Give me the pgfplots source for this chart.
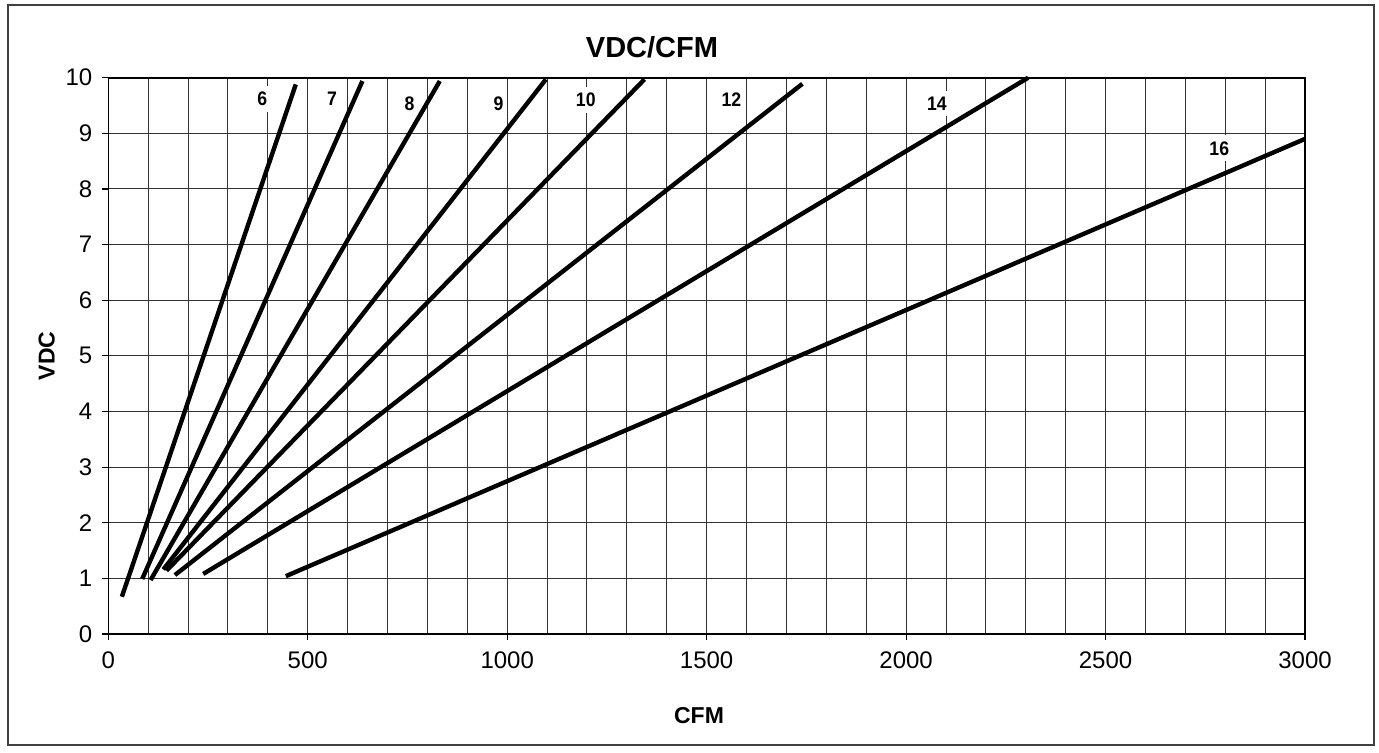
\documentclass[border=0pt]{standalone}
\usepackage{fontspec}
\setmainfont{Liberation Sans}
\newfontfamily\narrowfont{Liberation Sans}[FakeStretch=0.9]
\usepackage{pgfplots}
\pgfplotsset{compat=1.18}
\begin{document}
\begin{tikzpicture}
\useasboundingbox (0pt,0pt) rectangle (689.5pt,376pt);
\draw[line width=0.75pt, color=black!75] (4pt,3.5pt) rectangle (687pt,373.5pt);
\begin{axis}[
  at={(54.15pt,59pt)}, anchor=south west,
  scale only axis, width=598.35pt, height=278.15pt,
  xmin=0, xmax=3000, ymin=0, ymax=10,
  xtick={0,500,...,3000}, minor x tick num=4,
  ytick={0,1,...,10},
  grid=both,
  major grid style={black!80, line width=0.5pt},
  minor grid style={black!80, line width=0.5pt},
  tick pos=left, tick align=outside,
  major tick length=3pt, minor tick length=0pt,
  tick style={black, line width=0.6pt},
  axis line style={black, line width=0.8pt},
  tick label style={font=\fontsize{12}{14}\selectfont},
  yticklabel style={xshift=-1.5pt},
  xticklabel style={yshift=-2.5pt, /pgf/number format/1000 sep={}},
  /pgf/number format/assume math mode=true,
  scaled x ticks=false,
  clip=false,
]
\addplot[black, line width=2.2pt] coordinates {(34,0.67) (470,9.88)};
\addplot[black, line width=2.2pt] coordinates {(85,0.99) (637,9.94)};
\addplot[black, line width=2.2pt] coordinates {(106,0.97) (831,9.94)};
\addplot[black, line width=2.2pt] coordinates {(138,1.16) (1097,9.97)};
\addplot[black, line width=2.2pt] coordinates {(146,1.14) (1344,9.97)};
\addplot[black, line width=2.2pt] coordinates {(167,1.06) (1740,9.89)};
\addplot[black, line width=2.2pt] coordinates {(238,1.08) (2306,10)};
\addplot[black, line width=2.2pt] coordinates {(445,1.04) (3000,8.90)};
\tikzset{lbl/.style={fill=white, inner xsep=1pt, inner ysep=3pt, font=\narrowfont\bfseries\fontsize{9.8}{11}\selectfont}}
\node[lbl] at (axis cs:386,9.62) {6};
\node[lbl] at (axis cs:561,9.62) {7};
\node[lbl] at (axis cs:755,9.54) {8};
\node[lbl] at (axis cs:978,9.54) {9};
\node[lbl] at (axis cs:1197,9.60) {10};
\node[lbl] at (axis cs:1562,9.60) {12};
\node[lbl] at (axis cs:2077,9.54) {14};
\node[lbl] at (axis cs:2785,8.73) {16};
\end{axis}
\node[font=\bfseries\fontsize{14.5}{16}\selectfont] at (326pt,352.5pt) {VDC/CFM};
\node[font=\bfseries\fontsize{11.5}{13}\selectfont] at (349.5pt,18.25pt) {CFM};
\node[font=\bfseries\fontsize{11.5}{13}\selectfont, rotate=90] at (23.35pt,198pt) {VDC};
\end{tikzpicture}
\end{document}
